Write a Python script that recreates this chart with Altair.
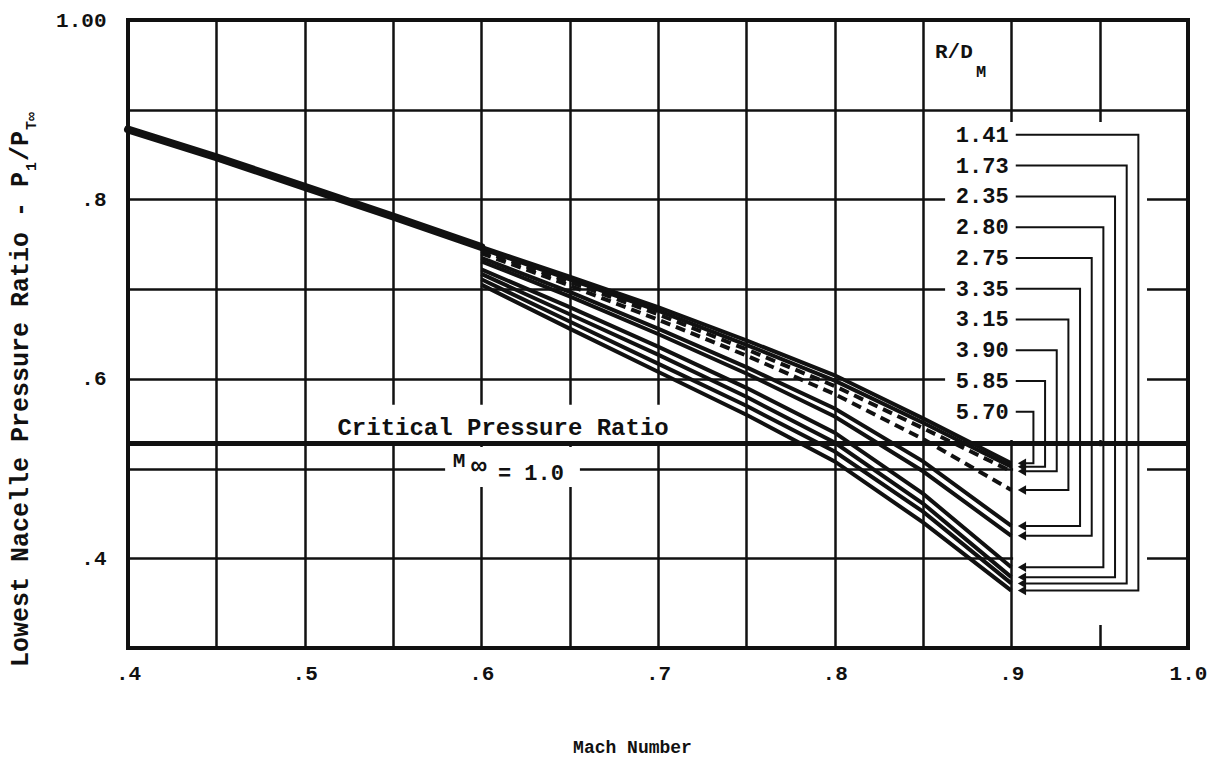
import altair as alt
import pandas as pd

# ---------------- data ----------------
MACH_COMMON = [0.40, 0.45, 0.50, 0.55, 0.60]
P_COMMON = [0.878, 0.847, 0.814, 0.781, 0.747]

MACH_FAN = [0.60, 0.65, 0.70, 0.75, 0.80, 0.85, 0.90]
P_RD_141 = [0.705, 0.656, 0.608, 0.560, 0.508, 0.440, 0.364]
P_RD_173 = [0.711, 0.664, 0.617, 0.570, 0.519, 0.452, 0.372]
P_RD_235 = [0.717, 0.672, 0.627, 0.580, 0.529, 0.461, 0.379]
P_RD_280 = [0.722, 0.680, 0.636, 0.590, 0.540, 0.472, 0.390]
P_RD_275 = [0.731, 0.692, 0.650, 0.606, 0.558, 0.497, 0.425]
P_RD_335 = [0.735, 0.697, 0.656, 0.613, 0.567, 0.508, 0.436]
P_RD_315 = [0.740, 0.704, 0.666, 0.626, 0.583, 0.533, 0.476]
P_RD_390 = [0.743, 0.708, 0.672, 0.633, 0.592, 0.545, 0.497]
P_RD_585 = [0.745, 0.711, 0.676, 0.638, 0.598, 0.551, 0.502]
P_RD_570 = [0.747, 0.714, 0.680, 0.643, 0.604, 0.556, 0.506]

RD_LABELS = ["1.41", "1.73", "2.35", "2.80", "2.75", "3.35", "3.15", "3.90", "5.85", "5.70"]
RD_SERIES = [P_RD_141, P_RD_173, P_RD_235, P_RD_280, P_RD_275,
             P_RD_335, P_RD_315, P_RD_390, P_RD_585, P_RD_570]
RD_DASHED = ["3.15", "3.90"]

CRITICAL_RATIO = 0.528

X_GRID = [0.40, 0.45, 0.50, 0.55, 0.60, 0.65, 0.70, 0.75, 0.80, 0.85, 0.90, 0.95, 1.00]
Y_GRID = [0.3, 0.4, 0.5, 0.6, 0.7, 0.8, 0.9, 1.0]

# ---------------- layout / style constants ----------------
INK = "#111111"
FONT = "Liberation Mono"
LABEL_TOP, LABEL_STEP, LABEL_X = 0.872, 0.0343, 0.8985
LEADER_START, LEADER_X0, LEADER_STEP, ARROW_X = 0.9025, 0.9125, 0.0066, 0.906

xs = alt.Scale(domain=[0.4, 1.0], nice=False, zero=False)
ys = alt.Scale(domain=[0.3, 1.0], nice=False, zero=False)

x_axis = alt.Axis(
    values=X_GRID,
    labelExpr="round(datum.value*100) % 10 == 0 ? (datum.value >= 1 ? '1.0' : slice(format(datum.value, '.1f'), 1)) : ''",
    title="Mach Number", grid=True, gridColor=INK, gridWidth=2.5, gridOpacity=1,
    ticks=False, domain=False, labelFont=FONT, labelFontWeight="bold", labelFontSize=21,
    labelColor=INK, labelPadding=14, labelFlush=False, labelOverlap=False,
    titleFont=FONT, titleFontWeight="bold", titleFontSize=18, titleColor=INK,
    titleX=504, titleY=90, titleAlign="center", titleBaseline="top",
)
y_axis = alt.Axis(
    values=Y_GRID,
    labelExpr="indexof([40, 60, 80, 100], round(datum.value*100)) >= 0 ? (datum.value >= 1 ? '1.00' : slice(format(datum.value, '.1f'), 1)) : ''",
    title=None, grid=True, gridColor=INK, gridWidth=2.5, gridOpacity=1,
    ticks=False, domain=False, labelFont=FONT, labelFontWeight="bold", labelFontSize=21,
    labelColor=INK, labelPadding=22, labelFlush=False, labelOverlap=False,
)


def X(field, **kw):
    return alt.X(field, scale=xs, axis=x_axis, **kw)


def Y(field, **kw):
    return alt.Y(field, scale=ys, axis=y_axis, **kw)


# ---------------- tables built from the arrays ----------------
common_df = pd.DataFrame({"m": MACH_COMMON, "p": P_COMMON})

fan_rows = []
for lab, ser in zip(RD_LABELS, RD_SERIES):
    for i, (m, p) in enumerate(zip(MACH_FAN, ser)):
        fan_rows.append({"rd": lab, "m": m, "p": p, "o": i, "dashed": lab in RD_DASHED})
fan_df = pd.DataFrame(fan_rows)

lead_rows, arrow_rows, label_rows = [], [], []
n = len(RD_LABELS)
for k, (lab, ser) in enumerate(zip(RD_LABELS, RD_SERIES)):
    yl = LABEL_TOP - k * LABEL_STEP
    xk = LEADER_X0 + (n - 1 - k) * LEADER_STEP
    ye = ser[-1]
    for o, (xx, yy) in enumerate([(LEADER_START, yl), (xk, yl), (xk, ye), (ARROW_X + 0.002, ye)]):
        lead_rows.append({"rd": lab, "x": xx, "y": yy, "o": o})
    arrow_rows.append({"rd": lab, "x": ARROW_X, "y": ye})
    label_rows.append({"rd": lab, "x": LABEL_X, "y": yl})
lead_df = pd.DataFrame(lead_rows)
arrow_df = pd.DataFrame(arrow_rows)
label_df = pd.DataFrame(label_rows)

# white masks where the original grid is broken around lettering
mask_df = pd.DataFrame([
    {"x": 0.8625, "x2": 0.9768, "y": 0.5318, "y2": 0.8863},
    {"x": 0.9010, "x2": 0.9768, "y": 0.3255, "y2": 0.5250},
    {"x": 0.5140, "x2": 0.7130, "y": 0.5300, "y2": 0.5710},
    {"x": 0.5795, "x2": 0.6558, "y": 0.4794, "y2": 0.5240},
])

crit_df = pd.DataFrame({"x": [0.4], "x2": [1.0], "y": [CRITICAL_RATIO]})

# ---------------- layers ----------------
masks = alt.Chart(mask_df).mark_rect(color="white").encode(
    x=X("x:Q"), x2="x2", y=Y("y:Q"), y2="y2")

crit = alt.Chart(crit_df).mark_rule(color=INK, strokeWidth=5).encode(
    x=X("x:Q"), x2="x2", y=Y("y:Q"))

common = alt.Chart(common_df).mark_line(color=INK, strokeWidth=8, strokeCap="round").encode(
    x=X("m:Q"), y=Y("p:Q"))

fan_solid = alt.Chart(fan_df).transform_filter("!datum.dashed").mark_line(
    color=INK, strokeWidth=4).encode(
    x=X("m:Q"), y=Y("p:Q"), detail="rd:N", order="o:Q")

fan_dash = alt.Chart(fan_df).transform_filter("datum.dashed").mark_line(
    color=INK, strokeWidth=4, strokeDash=[10, 6]).encode(
    x=X("m:Q"), y=Y("p:Q"), detail="rd:N", order="o:Q")

leaders = alt.Chart(lead_df).mark_line(color=INK, strokeWidth=2).encode(
    x=X("x:Q"), y=Y("y:Q"), detail="rd:N", order="o:Q")

arrows = alt.Chart(arrow_df).mark_point(
    shape="triangle-left", filled=True, color=INK, size=90, opacity=1).encode(
    x=X("x:Q"), y=Y("y:Q"))

labels = alt.Chart(label_df).mark_text(
    font=FONT, fontWeight="bold", fontSize=22, align="right", baseline="middle", color=INK).encode(
    x=X("x:Q"), y=Y("y:Q"), text="rd:N")


def note(txt, x, y, size, align="left", baseline="alphabetic"):
    return alt.Chart(pd.DataFrame({"t": [txt], "x": [x], "y": [y]})).mark_text(
        font=FONT, fontWeight="bold", fontSize=size, align=align, baseline=baseline, color=INK
    ).encode(x=X("x:Q"), y=Y("y:Q"), text="t:N")


notes = [
    note("Critical Pressure Ratio", 0.6123, 0.537, 24, align="center"),
    note("M", 0.5874, 0.502, 21, align="center"),
    note("\u221e", 0.5985, 0.494, 26, align="center"),
    note("= 1.0", 0.6094, 0.487, 22),
    note("R/D", 0.8568, 0.9576, 21),
    note("M", 0.8800, 0.9370, 17),
]


def pix(txt, px, py, size, angle=270):
    return alt.Chart(pd.DataFrame({"t": [txt]})).mark_text(
        font=FONT, fontWeight="bold", fontSize=size, align="left", baseline="alphabetic",
        angle=angle, color=INK
    ).encode(x=alt.value(px), y=alt.value(py), text="t:N")


ytitle = [
    pix("Lowest Nacelle Pressure Ratio - P", -100, 647, 25),
    pix("1", -92, 151, 15),
    pix("/P", -100, 141, 25),
    pix("T\u221e", -92, 110, 15),
]

chart = alt.layer(
    masks, crit, common, fan_solid, fan_dash, leaders, arrows, labels, *notes, *ytitle
).properties(
    width=1060, height=628,
    autosize=alt.AutoSizeParams(type="none"),
    padding={"left": 120, "top": 12, "right": 20, "bottom": 115},
    background="white",
).configure_view(stroke=INK, strokeWidth=4)

chart.save("out.html", embed_options={"renderer": "svg", "actions": False})
